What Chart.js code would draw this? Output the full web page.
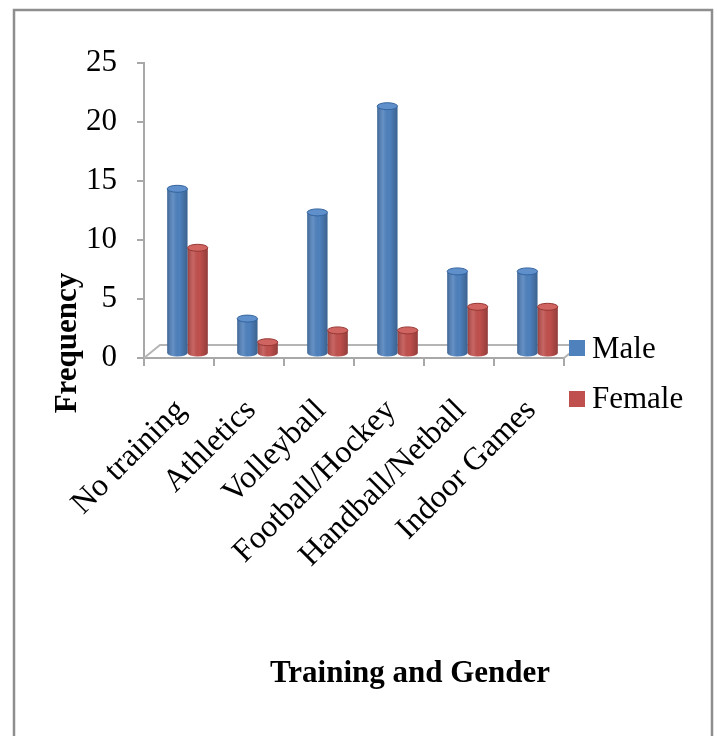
<!DOCTYPE html>
<html>
<head>
<meta charset="utf-8">
<title>Training and Gender</title>
<script src="https://cdn.jsdelivr.net/npm/chart.js@4/dist/chart.umd.min.js"></script>
<style>
  html, body { margin: 0; padding: 0; background: #ffffff; }
  #wrap { position: relative; width: 717px; height: 736px; }
</style>
</head>
<body>
<div id="wrap"><canvas id="chart" width="717" height="736"></canvas></div>
<script>
// Frequency of training type, split by gender
const categories = ['No training', 'Athletics', 'Volleyball', 'Football/Hockey', 'Handball/Netball', 'Indoor Games'];
const maleValues = [14, 3, 12, 21, 7, 7];
const femaleValues = [9, 1, 2, 2, 4, 4];
const seriesNames = ['Male', 'Female'];
const yTickValues = [0, 5, 10, 15, 20, 25];
const xAxisTitle = 'Training and Gender';
const yAxisTitle = 'Frequency';

// cylinder colours: flat body, shaded edge, lighter top cap
const palette = [
  { body: '#4f81bd', edge: '#33649e', cap: '#6090cb', legend: '#4f81bd' },
  { body: '#c0504d', edge: '#963835', cap: '#cf6461', legend: '#c0504d' }
];

const SERIF = "'Liberation Serif', 'Times New Roman', serif";
const FLOOR = { dx: 16, dy: -13 };     // depth of the floor plane
const BAR_SHIFT = { dx: 8.5, dy: -4 }; // bars stand half-way back on the floor

// outer frame around the whole figure
const framePlugin = {
  id: 'frame',
  beforeDraw(chart) {
    const c = chart.ctx;
    c.save();
    c.fillStyle = '#ffffff';
    c.fillRect(0, 0, chart.width, chart.height);
    c.strokeStyle = '#8e8e8e';
    c.lineWidth = 2.5;
    c.strokeRect(14, 10, 698, 780);
    c.restore();
  }
};

// floor plane, depth offset and cylinder shading for the bars
const cylinderPlugin = {
  id: 'cylinders',
  beforeDatasetsDraw(chart) {
    const c = chart.ctx;
    const { left, right } = chart.chartArea;
    const y0 = chart.scales.y.getPixelForValue(0);
    c.save();
    c.strokeStyle = '#b5b5b5';
    c.lineWidth = 2;
    c.beginPath();
    c.moveTo(left, y0);
    c.lineTo(left + FLOOR.dx, y0 + FLOOR.dy);
    c.lineTo(right + FLOOR.dx, y0 + FLOOR.dy);
    c.lineTo(right, y0);
    c.stroke();
    c.restore();
    c.save();
    c.translate(BAR_SHIFT.dx, BAR_SHIFT.dy);
  },
  afterDatasetsDraw(chart) {
    const c = chart.ctx;
    chart.data.datasets.forEach((ds, i) => {
      const meta = chart.getDatasetMeta(i);
      if (meta.hidden) return;
      const col = palette[i];
      meta.data.forEach(el => {
        const { x, y, base, width } = el.getProps(['x', 'y', 'base', 'width'], true);
        const l = x - width / 2;
        const ry = 3.5;
        const g = c.createLinearGradient(l, 0, l + width, 0);
        g.addColorStop(0, 'rgba(0,0,0,0.22)');
        g.addColorStop(0.3, 'rgba(255,255,255,0.12)');
        g.addColorStop(0.6, 'rgba(0,0,0,0)');
        g.addColorStop(1, 'rgba(0,0,0,0.24)');
        // rounded bottom
        c.beginPath();
        c.ellipse(x, base, width / 2, ry, 0, 0, Math.PI);
        c.closePath();
        c.fillStyle = col.body;
        c.fill();
        c.fillStyle = g;
        c.fill();
        // shaded body
        c.fillStyle = g;
        c.fillRect(l, y, width, base - y);
        // top cap
        c.beginPath();
        c.ellipse(x, y, width / 2, ry, 0, 0, Math.PI * 2);
        c.fillStyle = col.cap;
        c.fill();
        c.lineWidth = 1;
        c.strokeStyle = col.edge;
        c.stroke();
      });
    });
    c.restore();
  }
};

// legend and axis titles
const labelsPlugin = {
  id: 'labels',
  afterDraw(chart) {
    const c = chart.ctx;
    c.save();
    // legend
    chart.data.datasets.forEach((ds, i) => {
      c.fillStyle = palette[i].legend;
      c.fillRect(569, 340 + i * 51, 16, 16);
      c.fillStyle = '#000000';
      c.font = '31px ' + SERIF;
      c.textAlign = 'left';
      c.textBaseline = 'alphabetic';
      c.fillText(ds.label, 592, 358 + i * 50);
    });
    // x title
    c.fillStyle = '#000000';
    c.font = 'bold 31px ' + SERIF;
    c.textAlign = 'center';
    c.textBaseline = 'alphabetic';
    c.fillText(xAxisTitle, 410, 682);
    // y title
    c.translate(76, 343);
    c.rotate(-Math.PI / 2);
    c.fillText(yAxisTitle, 0, 0);
    c.restore();
  }
};

const axisGrey = '#a8a8a8';

new Chart(document.getElementById('chart'), {
  type: 'bar',
  data: {
    labels: categories,
    datasets: [
      { label: seriesNames[0], data: maleValues, backgroundColor: palette[0].body, borderWidth: 0, clip: false },
      { label: seriesNames[1], data: femaleValues, backgroundColor: palette[1].body, borderWidth: 0, clip: false }
    ]
  },
  options: {
    responsive: false,
    animation: false,
    devicePixelRatio: 1,
    layout: { padding: { left: 0, right: 153, top: 63, bottom: 0 } },
    datasets: { bar: { categoryPercentage: 0.58, barPercentage: 1.0 } },
    plugins: {
      legend: { display: false },
      tooltip: { enabled: false },
      title: { display: false }
    },
    scales: {
      x: {
        type: 'category',
        offset: true,
        afterFit(scale) { scale.height = 378; },
        border: { display: true, color: axisGrey, width: 2 },
        grid: { display: true, offset: true, drawOnChartArea: false, drawTicks: true, tickLength: 8, color: axisGrey, lineWidth: 2 },
        ticks: {
          autoSkip: false,
          minRotation: 45,
          maxRotation: 45,
          padding: 26,
          labelOffset: 2,
          color: '#000000',
          font: { family: SERIF, size: 32 }
        }
      },
      y: {
        min: 0,
        max: 25,
        afterFit(scale) { scale.width = 144; },
        afterBuildTicks(scale) { scale.ticks = yTickValues.map(v => ({ value: v })); },
        border: { display: true, color: axisGrey, width: 2 },
        grid: { display: true, drawOnChartArea: false, drawTicks: true, tickLength: 7, color: axisGrey, lineWidth: 2 },
        ticks: {
          padding: 20,
          color: '#000000',
          font: { family: SERIF, size: 31 }
        }
      }
    }
  },
  plugins: [framePlugin, cylinderPlugin, labelsPlugin]
});
</script>
</body>
</html>
